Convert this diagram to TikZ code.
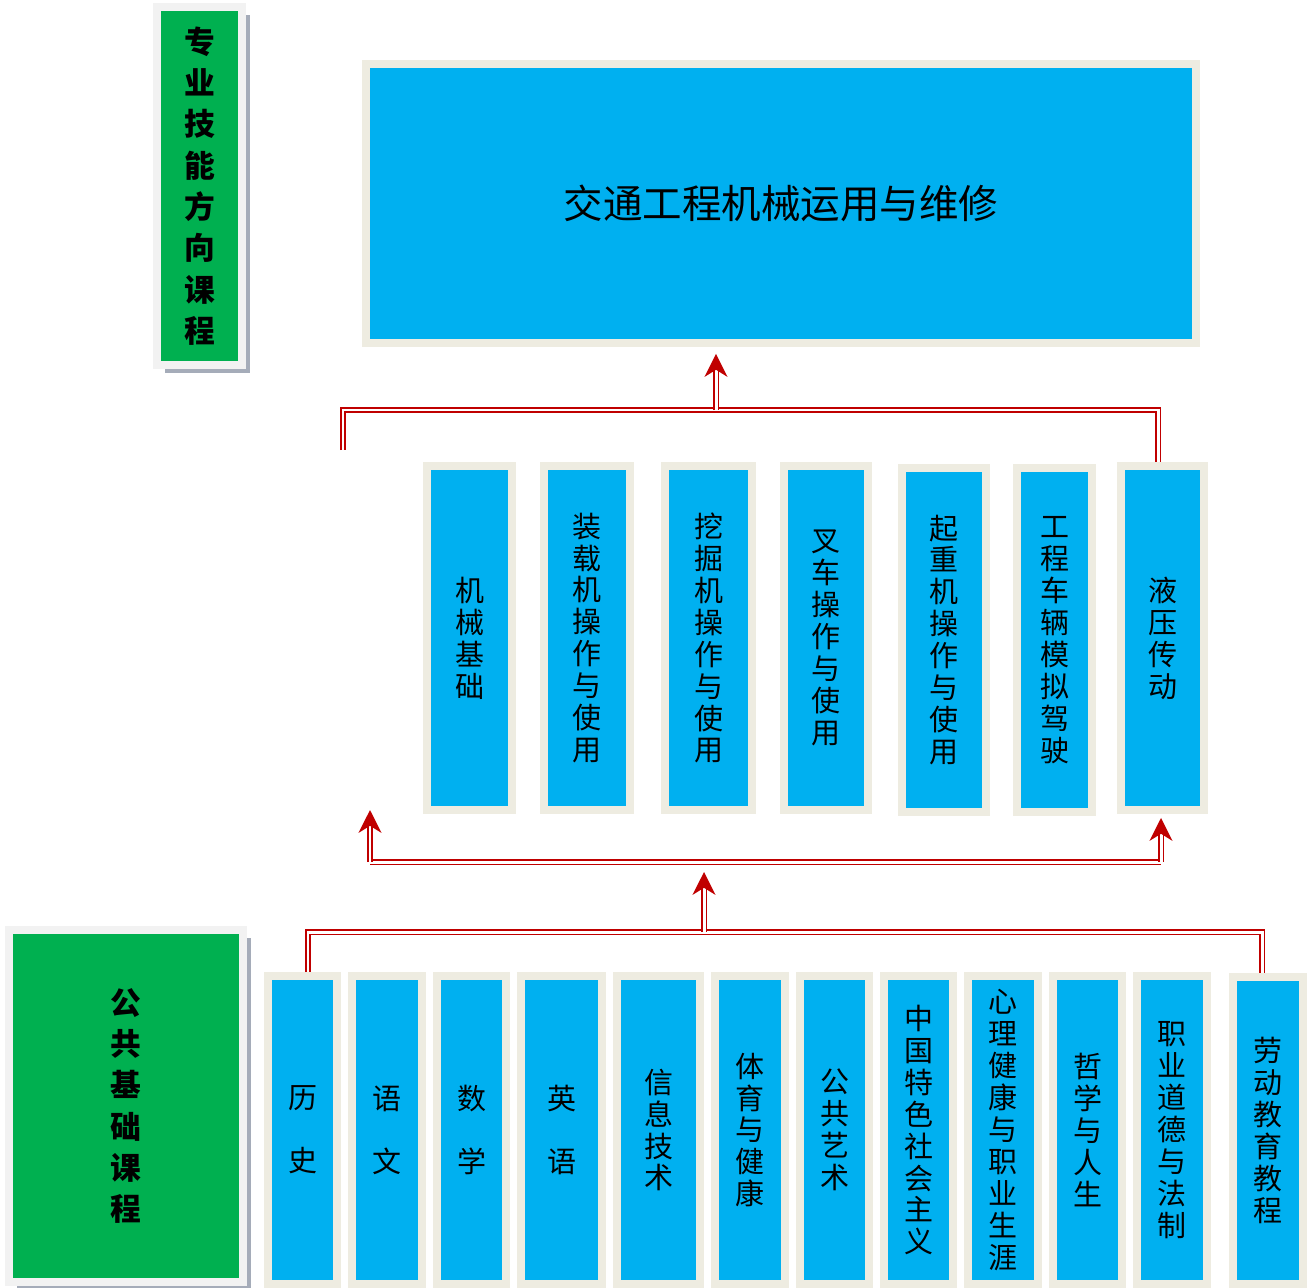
\documentclass[tikz,border=0pt]{standalone}
\usepackage{fontspec}
\setmainfont{Noto Sans CJK SC}
\usepackage{tikz}
\usetikzlibrary{arrows.meta, shadows}
\definecolor{skyfill}{HTML}{00B0F0}
\definecolor{paper}{HTML}{EEECE1}
\definecolor{leaf}{HTML}{00B050}
\definecolor{frame}{HTML}{F2F2F2}
\definecolor{shade}{HTML}{A5ACB9}
\definecolor{wire}{HTML}{C00000}
\tikzset{
  sec/.style={rectangle, draw=frame, fill=leaf, line width=0.16cm, inner sep=0pt,
              align=center, font=\bfseries\fontsize{17.5}{23.5}\selectfont,
              general shadow={fill=shade, shadow xshift=0.16cm, shadow yshift=-0.16cm}},
  crs/.style={rectangle, draw=paper, fill=skyfill, line width=0.16cm, inner sep=0pt,
              align=center, font=\fontsize{16.5}{18.2}\selectfont},
  mid/.style={crs, minimum height=6.88cm},
  bot/.style={crs, minimum height=6.16cm},
  airy/.style={font=\fontsize{16.5}{35.7}\selectfont},
  link/.style={draw=wire, double=white, double distance=1.7pt, line width=1.1pt},
  arr/.style={-{Stealth[length=13pt, width=13pt, inset=4pt]}},
}
\begin{document}
\begin{tikzpicture}[x=0.02cm, y=-0.02cm]
  \useasboundingbox (0,0) rectangle (1312,1288);
  % left-hand labels
  \node[sec, minimum width=1.70cm, minimum height=7.16cm] (spec) at (199.5,186)
    {专\\业\\技\\能\\方\\向\\课\\程};
  \node[sec, minimum width=4.68cm, minimum height=7.06cm] (pub) at (126,1106)
    {公\\共\\基\\础\\课\\程};
  % target
  \node[crs, minimum width=16.6cm, minimum height=5.58cm,
        font=\fontsize{22.5}{26}\selectfont] (main) at (781,203.5)
    {交通工程机械运用与维修};
  % skill courses
  \node[mid, minimum width=1.70cm] (m1) at (469.5,638) {机\\械\\基\\础};
  \node[mid, minimum width=1.72cm] (m2) at (587,638) {装\\载\\机\\操\\作\\与\\使\\用};
  \node[mid, minimum width=1.74cm] (m3) at (708.5,638) {挖\\掘\\机\\操\\作\\与\\使\\用};
  \node[mid, minimum width=1.68cm] (m4) at (826,638) {叉\\车\\操\\作\\与\\使\\用};
  \node[mid, minimum width=1.68cm] (m5) at (944,640) {起\\重\\机\\操\\作\\与\\使\\用};
  \node[mid, minimum width=1.50cm] (m6) at (1054.5,640) {工\\程\\车\\辆\\模\\拟\\驾\\驶};
  \node[mid, minimum width=1.66cm] (m7) at (1162.5,638) {液\\压\\传\\动};
  % public courses
  \node[bot, airy, minimum width=1.38cm] (b1) at (302.5,1130) {历\\史};
  \node[bot, airy, minimum width=1.40cm] (b2) at (387,1130) {语\\文};
  \node[bot, airy, minimum width=1.38cm] (b3) at (471.5,1130) {数\\学};
  \node[bot, airy, minimum width=1.62cm] (b4) at (561.5,1130) {英\\语};
  \node[bot, minimum width=1.66cm] (b5) at (658.5,1130) {信\\息\\技\\术};
  \node[bot, minimum width=1.40cm] (b6) at (750,1130) {体\\育\\与\\健\\康};
  \node[bot, minimum width=1.38cm] (b7) at (834.5,1130) {公\\共\\艺\\术};
  \node[bot, minimum width=1.38cm] (b8) at (918.5,1130) {中\\国\\特\\色\\社\\会\\主\\义};
  \node[bot, minimum width=1.40cm] (b9) at (1003,1130) {心\\理\\健\\康\\与\\职\\业\\生\\涯};
  \node[bot, minimum width=1.38cm] (b10) at (1087.5,1130) {哲\\学\\与\\人\\生};
  \node[bot, minimum width=1.40cm] (b11) at (1172,1130) {职\\业\\道\\德\\与\\法\\制};
  \node[bot, minimum width=1.40cm] (b12) at (1268,1130.5) {劳\\动\\教\\育\\教\\程};
  % junctions
  \coordinate (tfree) at (343,450);
  \coordinate (tl) at (343,410);
  \coordinate (tm) at (716,410);
  \coordinate (tr) at (1158,410);
  \coordinate (ml) at (370,862);
  \coordinate (mtip) at (370,810);
  \coordinate (mr) at (1161,862);
  \coordinate (bl) at (308,932);
  \coordinate (bm) at (704,932);
  \coordinate (br) at (1262,932);
  % connectors
  \draw[link] (tfree) -- (tl) -- (tr) -- (m7.north -| tr);
  \draw[link, arr, shorten >=0.14cm] (tm) -- (main.south -| tm);
  \draw[link] (ml) -- (mr);
  \draw[link, arr] (ml) -- (mtip);
  \draw[link, arr, shorten >=0.08cm] (mr) -- (m7.south -| mr);
  \draw[link] (b1.north -| bl) -- (bl) -- (br) -- (b12.north -| br);
  \draw[link, arr, shorten >=0.2cm] (bm) -- (bm |- ml);
\end{tikzpicture}
\end{document}
